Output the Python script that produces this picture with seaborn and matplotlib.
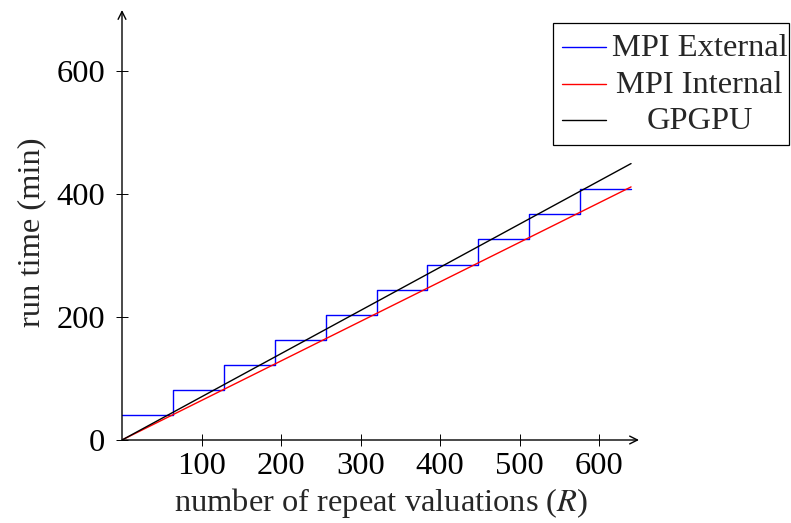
import numpy as np
import pandas as pd
import matplotlib
matplotlib.use("Agg")
import matplotlib.pyplot as plt
from matplotlib.patches import Rectangle
from matplotlib.lines import Line2D
import seaborn as sns

# Run time (minutes) against number of repeat valuations R
ext_r = [0, 64, 128, 192, 256, 320, 384, 448, 512, 576, 640]
ext_time = [40.8, 81.6, 122.4, 163.2, 204.0, 244.8, 285.6, 326.4, 367.2, 408.0, 408.0]
int_r = [0, 640]
int_time = [0, 412]
gpu_r = [0, 640]
gpu_time = [0, 450]

x_ticks = [100, 200, 300, 400, 500, 600]
y_ticks = [0, 200, 400, 600]

series_names = ["MPI External", "MPI Internal", "GPGPU"]
series_colors = ["#0000ff", "#ff0000", "black"]

sns.set_theme(style="white")
plt.rcParams["font.family"] = ["Liberation Serif", "DejaVu Serif"]
plt.rcParams["mathtext.fontset"] = "stix"

fs = 23.4
W, H = 791, 523
fig = plt.figure(figsize=(W / 100, H / 100), dpi=100)
ax = fig.add_axes([122 / W, 1 - 440 / H, 517 / W, 430 / H])

ext = pd.DataFrame({"R": ext_r, "t": ext_time})
itn = pd.DataFrame({"R": int_r, "t": int_time})
gpu = pd.DataFrame({"R": gpu_r, "t": gpu_time})

sns.lineplot(data=ext, x="R", y="t", ax=ax, color=series_colors[0], lw=1.0,
             drawstyle="steps-post", estimator=None)
sns.lineplot(data=itn, x="R", y="t", ax=ax, color=series_colors[1], lw=1.0,
             estimator=None)
sns.lineplot(data=gpu, x="R", y="t", ax=ax, color=series_colors[2], lw=1.0,
             estimator=None)

ax.set_xlim(0, 650)
ax.set_ylim(0, 700)
ax.set_xticks(x_ticks)
ax.set_yticks(y_ticks)
ax.tick_params(direction="inout", length=8, width=0.7, colors="black",
               labelsize=fs)
ax.tick_params(axis="x", pad=5)
ax.tick_params(axis="y", pad=8)
ax.xaxis.set_ticks_position("bottom")
ax.yaxis.set_ticks_position("left")
for s in ax.spines.values():
    s.set_visible(False)

# axis lines with arrow heads
arrow = dict(arrowstyle="->", lw=1.0, color="black", shrinkA=0, shrinkB=0,
             mutation_scale=14)
ax.annotate("", xy=(1, 0), xytext=(0, 0), xycoords="axes fraction",
            textcoords="axes fraction", arrowprops=arrow)
ax.annotate("", xy=(0, 1), xytext=(0, 0), xycoords="axes fraction",
            textcoords="axes fraction", arrowprops=arrow)

ax.set_xlabel("number of repeat valuations ($R$)", fontsize=fs)
ax.set_ylabel("run time (min)", fontsize=fs)
ax.xaxis.set_label_coords(0.5, -0.108)
ax.yaxis.set_label_coords(-0.147, 0.483)

# legend box with centred entry texts
def fx(px):
    return px / W

def fy(py):
    return 1 - py / H

fig.add_artist(Rectangle((fx(553), fy(145)), fx(789) - fx(553), fy(23) - fy(145),
                         transform=fig.transFigure, facecolor="white",
                         edgecolor="black", lw=0.9))
line_y = [47, 83.5, 119.5]
text_base = [56.5, 93, 129]
for name, col, ly, ty in zip(series_names, series_colors, line_y, text_base):
    fig.add_artist(Line2D([fx(562), fx(606)], [fy(ly), fy(ly)], color=col,
                          lw=1.0, transform=fig.transFigure))
    fig.text(fx(699.5), fy(ty), name, ha="center", va="baseline", fontsize=fs)

fig.savefig("out.png", dpi=100)
